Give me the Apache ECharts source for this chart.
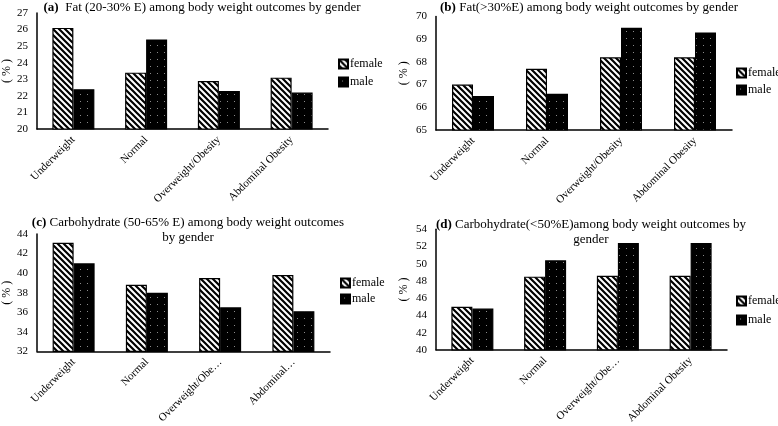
<!DOCTYPE html>
<html><head><meta charset="utf-8">
<script src="https://cdn.jsdelivr.net/npm/echarts@6/dist/echarts.min.js"></script>
<style>html,body{margin:0;padding:0;background:#fff}#c{width:778px;height:426px}</style>
</head><body><div id="c"></div>
<script>
const catsA = ['Underweight', 'Normal', 'Overweight/Obesity', 'Abdominal Obesity'];
const catsB = ['Underweight', 'Normal', 'Overweight/Obesity', 'Abdominal Obesity'];
const catsC = ['Underweight', 'Normal', 'Overweight/Obe…', 'Abdominal…'];
const catsD = ['Underweight', 'Normal', 'Overweight/Obe…', 'Abdominal Obesity'];
const fatMidFemale = [26.1, 23.4, 22.9, 23.1];
const fatMidMale = [22.4, 25.4, 22.3, 22.2];
const fatHighFemale = [67.0, 67.7, 68.2, 68.2];
const fatHighMale = [66.5, 66.6, 69.5, 69.3];
const carbMidFemale = [43.1, 38.8, 39.5, 39.8];
const carbMidMale = [41.0, 38.0, 36.5, 36.1];
const carbLowFemale = [45.0, 48.5, 48.6, 48.6];
const carbLowMale = [44.8, 50.4, 52.4, 52.4];
const titles = [
  '{b|(a)}  Fat (20-30% E) among body weight outcomes by gender',
  '{b|(b)} Fat(>30%E) among body weight outcomes by gender',
  '{b|(c)} Carbohydrate (50-65% E) among body weight outcomes\nby gender',
  '{b|(d)} Carbohydrate(<50%E)among body weight outcomes by\ngender'
];
const seriesNames = ['female', 'male'];
const yName = '( % )';

function stripes() {
  const c = document.createElement('canvas'); c.width = 6; c.height = 6;
  const g = c.getContext('2d');
  g.fillStyle = '#fff'; g.fillRect(0, 0, 6, 6);
  g.strokeStyle = '#000'; g.lineWidth = 2.2; g.beginPath();
  g.moveTo(-1, -1); g.lineTo(7, 7);
  g.moveTo(-1, 5); g.lineTo(1, 7);
  g.moveTo(5, -1); g.lineTo(7, 1);
  g.stroke();
  return c;
}
function dots() {
  const c = document.createElement('canvas'); c.width = 7; c.height = 7;
  const g = c.getContext('2d');
  g.fillStyle = '#000'; g.fillRect(0, 0, 7, 7);
  g.fillStyle = '#8a8a8a'; g.fillRect(3, 3, 1, 1);
  return c;
}
const femaleFill = { image: stripes(), repeat: 'repeat' };
const maleFill = { image: dots(), repeat: 'repeat' };
const FONT = '"Liberation Serif", "Times New Roman", serif';

const panels = [
  { cats: catsA, f: fatMidFemale, m: fatMidMale, min: 20, max: 27, step: 1,
    grid: { left: 32, top: 13, width: 296, height: 116 },
    title: { left: 202, top: 0 }, legend: { left: 338, top: 58, itemGap: 6 }, nameGap: 24 },
  { cats: catsB, f: fatHighFemale, m: fatHighMale, min: 65, max: 70, step: 1,
    grid: { left: 436, top: 16.5, width: 296, height: 113.5 },
    title: { left: 589, top: 0 }, legend: { left: 736, top: 67, itemGap: 5 }, nameGap: 26 },
  { cats: catsC, f: carbMidFemale, m: carbMidMale, min: 32, max: 44, step: 2,
    grid: { left: 33, top: 234, width: 297, height: 122.7 },
    title: { left: 188, top: 215 }, legend: { left: 340, top: 277, itemGap: 4 }, nameGap: 24 },
  { cats: catsD, f: carbLowFemale, m: carbLowMale, min: 40, max: 54, step: 2,
    grid: { left: 436, top: 229.3, width: 291, height: 124.7 },
    title: { left: 591, top: 217 }, legend: { left: 736, top: 295, itemGap: 7 }, nameGap: 26 }
];

const option = { animation: false, backgroundColor: '#fff', title: [], legend: [], grid: [], xAxis: [], yAxis: [], series: [] };
panels.forEach((p, i) => {
  option.grid.push(Object.assign({ containLabel: false }, p.grid));
  option.title.push({
    text: titles[i], left: p.title.left, top: p.title.top, textAlign: 'center', padding: 0,
    textStyle: { fontFamily: FONT, fontSize: 13, fontWeight: 'normal', color: '#000', lineHeight: 15,
      rich: { b: { fontFamily: FONT, fontSize: 13, fontWeight: 'bold', color: '#000' } } }
  });
  option.legend.push({
    data: seriesNames, orient: 'vertical', left: p.legend.left, top: p.legend.top, itemGap: p.legend.itemGap,
    itemWidth: 9, itemHeight: 9, padding: 0, icon: 'rect', selectedMode: false,
    textStyle: { fontFamily: FONT, fontSize: 12, color: '#000', padding: [0, 0, 0, -3] }
  });
  option.xAxis.push({
    type: 'category', gridIndex: i, data: p.cats,
    axisLine: { lineStyle: { color: '#000', width: 1.5 } }, axisTick: { show: false },
    axisLabel: { rotate: 45, interval: 0, margin: 9, fontFamily: FONT, fontSize: 11, color: '#000' }
  });
  option.yAxis.push({
    type: 'value', gridIndex: i, min: p.min, max: p.max, interval: p.step,
    name: yName, nameLocation: 'middle', nameRotate: 90, nameGap: p.nameGap,
    nameTextStyle: { fontFamily: FONT, fontSize: 12, color: '#000' },
    axisLine: { show: true, lineStyle: { color: '#000', width: 1.5 } }, axisTick: { show: false },
    splitLine: { show: false },
    axisLabel: { margin: 9, fontFamily: FONT, fontSize: 11, color: '#000' }
  });
  option.series.push({
    name: 'female', type: 'bar', xAxisIndex: i, yAxisIndex: i, data: p.f, barWidth: 21, barGap: '0%',
    itemStyle: { color: femaleFill, borderColor: '#000', borderWidth: 1.2 }
  });
  option.series.push({
    name: 'male', type: 'bar', xAxisIndex: i, yAxisIndex: i, data: p.m, barWidth: 21, barGap: '0%',
    itemStyle: { color: maleFill, borderColor: '#000', borderWidth: 1.2 }
  });
});
const chart = echarts.init(document.getElementById('c'), null, { renderer: 'canvas' });
chart.setOption(option);
</script></body></html>
